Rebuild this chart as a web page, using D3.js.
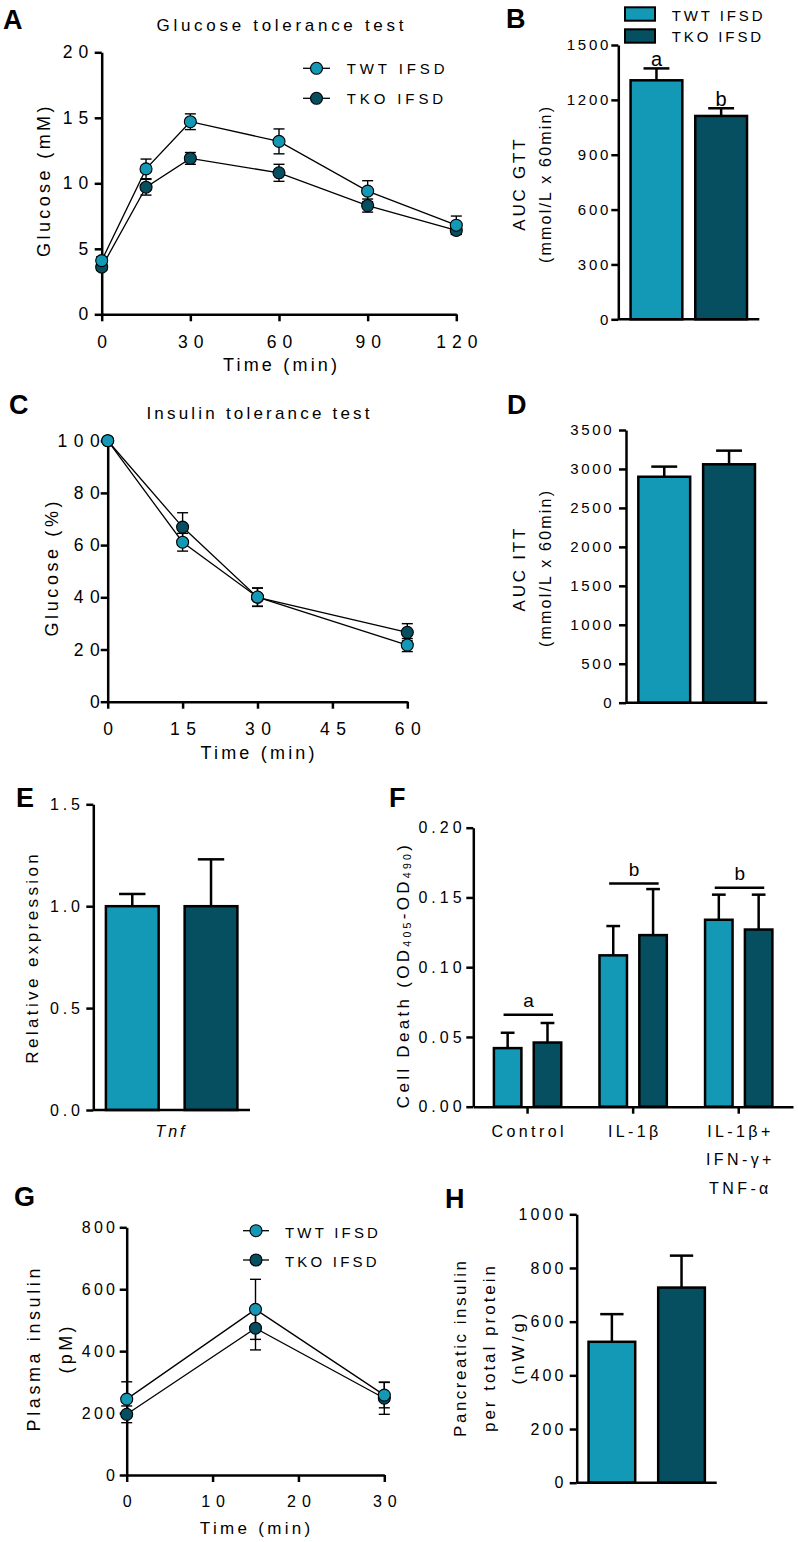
<!DOCTYPE html>
<html><head><meta charset="utf-8">
<script src="https://cdn.jsdelivr.net/npm/d3@7"></script>
<style>body{margin:0;background:#fff}svg{display:block}</style>
</head><body>
<script>
// ---------------- DATA ----------------
const groups = ["TWT IFSD", "TKO IFSD"];

// A: Glucose tolerance test
const gttTime = [0, 15, 30, 60, 90, 120];
const gttTWT = [4.1, 11.1, 14.7, 13.2, 9.4, 6.8];
const gttTWTerr = [0.3, 0.75, 0.6, 0.95, 0.8, 0.7];
const gttTKO = [3.6, 9.7, 11.9, 10.8, 8.3, 6.4];
const gttTKOerr = [0.25, 0.6, 0.45, 0.65, 0.5, 0.3];
const gttTicksX = [0, 30, 60, 90, 120];
const gttTicksY = [0, 5, 10, 15, 20];

// B: AUC GTT
const aucGTT = [1307, 1112];
const aucGTTerr = [65, 42];
const aucGTTletters = ["a", "b"];
const aucGTTticks = [0, 300, 600, 900, 1200, 1500];

// C: Insulin tolerance test
const ittTime = [0, 15, 30, 60];
const ittTWT = [100, 61.1, 40.1, 21.7];
const ittTWTerr = [0, 3.4, 3.5, 2.5];
const ittTKO = [100, 66.9, 40.0, 26.6];
const ittTKOerr = [0, 5.5, 3.5, 3.3];
const ittTicksX = [0, 15, 30, 45, 60];
const ittTicksY = [0, 20, 40, 60, 80, 100];

// D: AUC ITT
const aucITT = [2900, 3060];
const aucITTerr = [130, 175];
const aucITTticks = [0, 500, 1000, 1500, 2000, 2500, 3000, 3500];

// E: Tnf relative expression
const tnfVal = [1.0, 1.0];
const tnfErr = [0.06, 0.23];
const tnfTicks = [0, 0.5, 1.0, 1.5];

// F: Cell death
const cellCats = ["Control", "IL-1β", "IL-1β+|IFN-γ+|TNF-α"];
const cellTWT = [0.042, 0.1085, 0.134];
const cellTWTerr = [0.011, 0.021, 0.018];
const cellTKO = [0.046, 0.123, 0.127];
const cellTKOerr = [0.014, 0.033, 0.025];
const cellSigY = [0.066, 0.160, 0.157];
const cellSigLetters = ["a", "b", "b"];
const cellTicks = [0, 0.05, 0.10, 0.15, 0.20];

// G: Plasma insulin
const insTime = [0, 15, 30];
const insTWT = [245, 535, 258];
const insTWTerr = [56, 97, 41];
const insTKO = [196, 474, 248];
const insTKOerr = [27, 70, 52];
const insTicksX = [0, 10, 20, 30];
const insTicksY = [0, 200, 400, 600, 800];

// H: Pancreatic insulin
const pancVal = [525, 727];
const pancErr = [103, 119];
const pancTicks = [0, 200, 400, 600, 800, 1000];

// ---------------- STYLE ----------------
const C1 = "#1399b5", C2 = "#064f60";
const colors = [C1, C2];
const FONT = "'Liberation Sans', Arial, Helvetica, sans-serif";
const AX = 2.5;

const svg = d3.select("body").append("svg").attr("width", 798).attr("height", 1542);

function txt(g, x, y, s, o = {}) {
  const ls = o.ls || 0, anchor = o.anchor || "start";
  const off = anchor === "end" ? ls : anchor === "middle" ? ls / 2 : 0;
  const t = g.append("text")
    .attr("x", x + off).attr("y", y)
    .attr("font-family", FONT).attr("font-size", o.size || 16)
    .attr("font-weight", o.weight || "normal")
    .attr("font-style", o.italic ? "italic" : "normal")
    .attr("text-anchor", anchor).style("letter-spacing", ls + "px")
    .attr("fill", "#000").text(s);
  if (o.rotate) t.attr("transform", `rotate(-90,${x},${y})`);
  return t;
}

function styleAxis(a, fs, ls, anchor) {
  a.select(".domain").attr("stroke", "#000").attr("stroke-width", AX);
  a.selectAll(".tick line").attr("stroke", "#000").attr("stroke-width", AX);
  a.selectAll(".tick text").attr("font-family", FONT).attr("font-size", fs)
    .attr("fill", "#000").style("letter-spacing", ls + "px")
    .attr("dx", anchor === "end" ? ls : ls / 2);
}

function yAxis(g, y, x0, ticks, fmt, fs, ls, pad) {
  const a = g.append("g").attr("transform", `translate(${x0},0)`)
    .call(d3.axisLeft(y).tickValues(ticks).tickFormat(fmt).tickSize(7).tickSizeOuter(0).tickPadding(pad));
  styleAxis(a, fs, ls, "end");
  return a;
}
function xAxis(g, x, y0, ticks, fmt, fs, ls, pad) {
  const a = g.append("g").attr("transform", `translate(0,${y0})`)
    .call(d3.axisBottom(x).tickValues(ticks).tickFormat(fmt).tickSize(7).tickSizeOuter(0).tickPadding(pad));
  styleAxis(a, fs, ls, "middle");
  return a;
}

function lineSeries(g, x, y, t, vals, errs, color, drawMarkers) {
  if (!drawMarkers) {
    g.append("path").datum(t.map((d, i) => [d, vals[i]]))
      .attr("d", d3.line().x(d => x(d[0])).y(d => y(d[1])))
      .attr("fill", "none").attr("stroke", "#000").attr("stroke-width", 1.3);
    t.forEach((d, i) => {
      if (!errs[i]) return;
      const cx = x(d), lo = y(vals[i] - errs[i]), hi = y(vals[i] + errs[i]);
      g.append("line").attr("x1", cx).attr("x2", cx).attr("y1", lo).attr("y2", hi)
        .attr("stroke", "#000").attr("stroke-width", 1.4);
      [lo, hi].forEach(yy => g.append("line").attr("x1", cx - 5.5).attr("x2", cx + 5.5)
        .attr("y1", yy).attr("y2", yy).attr("stroke", "#000").attr("stroke-width", 1.4));
    });
  } else {
    g.selectAll(null).data(t).enter().append("circle")
      .attr("cx", d => x(d)).attr("cy", (d, i) => y(vals[i])).attr("r", 6)
      .attr("fill", color).attr("stroke", "#000").attr("stroke-width", 1.1);
  }
}

function lineLegend(g, x0, x1, tx, ys, tys, fs, ls) {
  groups.forEach((name, i) => {
    g.append("line").attr("x1", x0).attr("x2", x1).attr("y1", ys[i]).attr("y2", ys[i])
      .attr("stroke", "#000").attr("stroke-width", 1.3);
    g.append("circle").attr("cx", (x0 + x1) / 2).attr("cy", ys[i]).attr("r", 6)
      .attr("fill", colors[i]).attr("stroke", "#000").attr("stroke-width", 1.1);
    txt(g, tx, tys[i], name, { size: fs, ls: ls });
  });
}

function barPanel(g, o) {
  const y = d3.scaleLinear().domain(o.domain).range(o.yRange);
  const x = d3.scaleBand().domain(d3.range(o.vals.length)).range([o.x0, o.x1])
    .paddingInner(o.p).paddingOuter(o.q);
  const bw = x.bandwidth();
  o.vals.forEach((v, i) => {
    const cx = x(i) + bw / 2, top = y(v), et = y(v + o.errs[i]);
    g.append("line").attr("x1", cx).attr("x2", cx).attr("y1", top).attr("y2", et)
      .attr("stroke", "#000").attr("stroke-width", AX);
    g.append("line").attr("x1", cx - bw / 4).attr("x2", cx + bw / 4).attr("y1", et).attr("y2", et)
      .attr("stroke", "#000").attr("stroke-width", AX);
    g.append("rect").attr("x", x(i)).attr("y", top).attr("width", bw).attr("height", y(0) - top)
      .attr("fill", colors[i]).attr("stroke", "#000").attr("stroke-width", AX);
    if (o.letters) txt(g, cx, et - 2, o.letters[i], { size: 20, anchor: "middle" });
  });
  g.append("line").attr("x1", o.x0).attr("x2", o.x1).attr("y1", y(0)).attr("y2", y(0))
    .attr("stroke", "#000").attr("stroke-width", AX);
  yAxis(g, y, o.x0, o.ticks, o.fmt, o.fs, o.ls, o.pad);
  return { x, y };
}

const g = svg.append("g");

// ---------- Panel A ----------
{
  const x = d3.scaleLinear().domain([0, 120]).range([101.7, 456.3]);
  const y = d3.scaleLinear().domain([0, 20]).range([314.3, 52.3]);
  xAxis(g, x, 314.3, gttTicksX, d3.format("d"), 17.5, 6, 14.6);
  yAxis(g, y, 101.7, gttTicksY, d3.format("d"), 17.5, 6, 6.4);
  lineSeries(g, x, y, gttTime, gttTKO, gttTKOerr, C2, false);
  lineSeries(g, x, y, gttTime, gttTWT, gttTWTerr, C1, false);
  lineSeries(g, x, y, gttTime, gttTKO, gttTKOerr, C2, true);
  lineSeries(g, x, y, gttTime, gttTWT, gttTWTerr, C1, true);
  txt(g, 280, 30.5, "Glucose tolerance test", { size: 17, ls: 3.7, anchor: "middle" });
  txt(g, 50, 181.7, "Glucose (mM)", { size: 18, ls: 3.4, anchor: "middle", rotate: true });
  txt(g, 280, 370.5, "Time (min)", { size: 18, ls: 3.2, anchor: "middle" });
  lineLegend(g, 303, 330, 346.7, [68.3, 98.3], [74, 103.8], 15, 3.9);
  txt(g, 3, 29, "A", { size: 27, weight: "bold" });
}

// ---------- Panel B ----------
{
  barPanel(g, { domain: [0, 1500], yRange: [319.3, 45], x0: 618.3, x1: 759.3, p: 0.2, q: 0.19,
    vals: aucGTT, errs: aucGTTerr, letters: aucGTTletters, ticks: aucGTTticks, fmt: d3.format("d"),
    fs: 15, ls: 2.7, pad: 3 });
  txt(g, 525, 185, "AUC GTT", { size: 17, ls: 2.8, anchor: "middle", rotate: true });
  txt(g, 551, 185, "(mmol/L x 60min)", { size: 16, ls: 2.2, anchor: "middle", rotate: true });
  groups.forEach((n, i) => {
    g.append("rect").attr("x", 625).attr("y", [7.3, 29.3][i]).attr("width", 30).attr("height", 13.4)
      .attr("fill", colors[i]).attr("stroke", "#000").attr("stroke-width", 2);
    txt(g, 671.7, [20.7, 42.3][i], n, { size: 15, ls: 2.9 });
  });
  txt(g, 506, 28, "B", { size: 27, weight: "bold" });
}

// ---------- Panel C ----------
{
  const x = d3.scaleLinear().domain([0, 60]).range([107.7, 407.3]);
  const y = d3.scaleLinear().domain([0, 100]).range([701.7, 440.7]);
  xAxis(g, x, 701.7, ittTicksX, d3.format("d"), 17.5, 6.5, 13.9);
  yAxis(g, y, 107.7, ittTicksY, d3.format("d"), 17.5, 6.5, 1);
  lineSeries(g, x, y, ittTime, ittTKO, ittTKOerr, C2, false);
  lineSeries(g, x, y, ittTime, ittTWT, ittTWTerr, C1, false);
  lineSeries(g, x, y, ittTime, ittTKO, ittTKOerr, C2, true);
  lineSeries(g, x, y, ittTime, ittTWT, ittTWTerr, C1, true);
  txt(g, 258, 419.3, "Insulin tolerance test", { size: 17, ls: 3.2, anchor: "middle" });
  txt(g, 58, 569, "Glucose (%)", { size: 18, ls: 3.6, anchor: "middle", rotate: true });
  txt(g, 257.5, 759.3, "Time (min)", { size: 18, ls: 3.2, anchor: "middle" });
  txt(g, 9, 414, "C", { size: 27, weight: "bold" });
}

// ---------- Panel D ----------
{
  barPanel(g, { domain: [0, 3500], yRange: [702.7, 430], x0: 626, x1: 767.3, p: 0.2, q: 0.19,
    vals: aucITT, errs: aucITTerr, ticks: aucITTticks, fmt: d3.format("d"),
    fs: 15, ls: 2.7, pad: 7.3 });
  txt(g, 525, 570, "AUC ITT", { size: 17, ls: 2.8, anchor: "middle", rotate: true });
  txt(g, 551, 569, "(mmol/L x 60min)", { size: 16, ls: 2.2, anchor: "middle", rotate: true });
  txt(g, 507, 414, "D", { size: 27, weight: "bold" });
}

// ---------- Panel E ----------
{
  barPanel(g, { domain: [0, 1.5], yRange: [1110, 804.3], x0: 93.3, x1: 250, p: 0.33, q: 0.16,
    vals: tnfVal, errs: tnfErr, ticks: tnfTicks, fmt: d3.format(".1f"),
    fs: 16, ls: 3.9, pad: 6.3 });
  txt(g, 38.3, 959, "Relative expression", { size: 17, ls: 3.4, anchor: "middle", rotate: true });
  txt(g, 170, 1136.7, "Tnf", { size: 16, ls: 3, anchor: "middle", italic: true });
  txt(g, 16, 807, "E", { size: 27, weight: "bold" });
}

// ---------- Panel F ----------
{
  const y = d3.scaleLinear().domain([0, 0.2]).range([1106.7, 827.7]);
  const x = d3.scaleBand().domain(cellCats).range([473.3, 793]).paddingInner(0).paddingOuter(0.014);
  const xs = d3.scaleBand().domain([0, 1]).range([0, x.bandwidth()]).paddingInner(0.31).paddingOuter(0.48);
  const bw = xs.bandwidth();
  const series = [[cellTWT, cellTWTerr], [cellTKO, cellTKOerr]];
  cellCats.forEach((c, ci) => {
    series.forEach(([vals, errs], si) => {
      const x0 = x(c) + xs(si), cx = x0 + bw / 2, v = vals[ci], top = y(v), et = y(v + errs[ci]);
      g.append("line").attr("x1", cx).attr("x2", cx).attr("y1", top).attr("y2", et)
        .attr("stroke", "#000").attr("stroke-width", AX);
      g.append("line").attr("x1", cx - bw / 4).attr("x2", cx + bw / 4).attr("y1", et).attr("y2", et)
        .attr("stroke", "#000").attr("stroke-width", AX);
      g.append("rect").attr("x", x0).attr("y", top).attr("width", bw).attr("height", y(0) - top)
        .attr("fill", colors[si]).attr("stroke", "#000").attr("stroke-width", AX);
    });
    const gc = x(c) + x.bandwidth() / 2, sy = y(cellSigY[ci]);
    g.append("line").attr("x1", gc - 24).attr("x2", gc + 25.5).attr("y1", sy).attr("y2", sy)
      .attr("stroke", "#000").attr("stroke-width", AX);
    txt(g, gc + 1, sy - 8, cellSigLetters[ci], { size: 19, anchor: "middle" });
  });
  const xa = g.append("g").attr("transform", `translate(0,${y(0)})`)
    .call(d3.axisBottom(x).tickSize(7).tickSizeOuter(0).tickFormat(""));
  styleAxis(xa, 16, 3.4, "middle");
  yAxis(g, y, 473.3, cellTicks, d3.format(".2f"), 16, 4, 4.7);
  cellCats.forEach((c, ci) => {
    const gc = x(c) + x.bandwidth() / 2;
    c.split("|").forEach((line, li) => {
      txt(g, gc, [1137, 1165, 1194][li], line, { size: 16, ls: 3.4, anchor: "middle" });
    });
  });
  const t = g.append("text").attr("transform", "translate(409,975) rotate(-90)")
    .attr("text-anchor", "middle").attr("font-family", FONT).attr("font-size", 17)
    .style("letter-spacing", "3.3px").attr("fill", "#000");
  t.append("tspan").text("Cell Death (OD");
  t.append("tspan").attr("font-size", 10.5).attr("dy", 2).text("405");
  t.append("tspan").attr("dy", -2).text("-OD");
  t.append("tspan").attr("font-size", 10.5).attr("dy", 2).text("490");
  t.append("tspan").attr("dy", -2).text(")");
  txt(g, 389, 807, "F", { size: 27, weight: "bold" });
}

// ---------- Panel G ----------
{
  const x = d3.scaleLinear().domain([0, 30]).range([126.7, 384.3]);
  const y = d3.scaleLinear().domain([0, 800]).range([1475, 1227.3]);
  xAxis(g, x, 1475, insTicksX, d3.format("d"), 16, 6, 13.3);
  yAxis(g, y, 126.7, insTicksY, d3.format("d"), 16, 3.3, 4.7);
  lineSeries(g, x, y, insTime, insTKO, insTKOerr, C2, false);
  lineSeries(g, x, y, insTime, insTWT, insTWTerr, C1, false);
  lineSeries(g, x, y, insTime, insTKO, insTKOerr, C2, true);
  lineSeries(g, x, y, insTime, insTWT, insTWTerr, C1, true);
  txt(g, 40, 1350, "Plasma insulin", { size: 18, ls: 3.6, anchor: "middle", rotate: true });
  txt(g, 72, 1350, "(pM)", { size: 18, ls: 3.3, anchor: "middle", rotate: true });
  txt(g, 255, 1534.3, "Time (min)", { size: 17, ls: 3.3, anchor: "middle" });
  lineLegend(g, 243, 269, 285, [1230.7, 1260], [1238.3, 1266.7], 15, 3.2);
  txt(g, 14, 1206, "G", { size: 27, weight: "bold" });
}

// ---------- Panel H ----------
{
  barPanel(g, { domain: [0, 1000], yRange: [1482.7, 1214.3], x0: 576.7, x1: 716.7, p: 0.33, q: 0.17,
    vals: pancVal, errs: pancErr, ticks: pancTicks, fmt: d3.format("d"),
    fs: 16, ls: 3.1, pad: 6.3 });
  txt(g, 466, 1349, "Pancreatic insulin", { size: 17, ls: 2.5, anchor: "middle", rotate: true });
  txt(g, 495, 1349, "per total protein", { size: 17, ls: 3, anchor: "middle", rotate: true });
  txt(g, 524, 1349, "(nW/g)", { size: 17, ls: 4, anchor: "middle", rotate: true });
  txt(g, 445, 1208, "H", { size: 27, weight: "bold" });
}
</script>
</body></html>
